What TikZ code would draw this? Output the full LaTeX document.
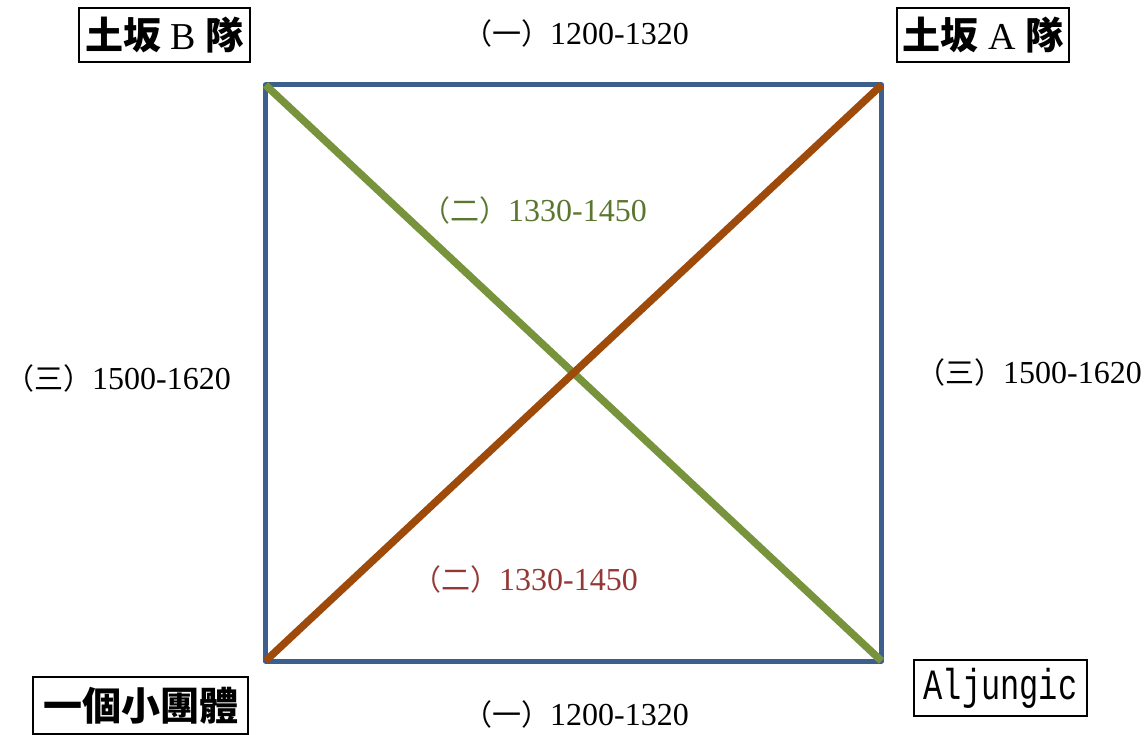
\documentclass[tikz,border=0pt]{standalone}
\usepackage{fontspec}
\setmainfont{Liberation Serif}
\newfontfamily\cjkfont{Noto Sans CJK TC}
\newfontfamily\monofont{Liberation Mono}
\usetikzlibrary{positioning}

\definecolor{sqblue}{HTML}{3D5F8E}
\definecolor{diaggreen}{HTML}{77933C}
\definecolor{diagorange}{HTML}{9E4A0B}
\definecolor{txtgreen}{HTML}{5B7630}
\definecolor{txtred}{HTML}{953735}

% (number) and time span
\newcommand{\period}[2]{{\cjkfont\fontsize{29}{32}\selectfont （#1）}#2}

\begin{document}
\begin{tikzpicture}[x=1pt,y=-1pt,
    timelabel/.style={font=\fontsize{32}{36}\selectfont, inner sep=0pt},
    teambox/.style={draw, line width=1.8pt, inner sep=0pt, minimum height=54pt}]
    \useasboundingbox (0,0) rectangle (1147,735);
    % Hjoerner af kvadratet
    \coordinate (tl) at (265.5,85);
    \coordinate (tr) at (881.5,85);
    \coordinate (br) at (881.5,661);
    \coordinate (bl) at (265.5,661);
    % Kvadratet
    \draw[sqblue,line width=5pt,line join=round] (tl) -- (tr) -- (br) -- (bl) -- cycle;
    % Diagonalerne
    \draw[diaggreen,line width=7.5pt] (tl) -- (br);
    \draw[diagorange,line width=7.5pt] (bl) -- (tr);
    % Holdene i hjoernerne
    \node[teambox,minimum width=171pt,font=\fontsize{38}{42}\selectfont] (teamB) at (164.5,35)
      {{\cjkfont\bfseries 土坂} B {\cjkfont\bfseries 隊}};
    \node[teambox,minimum width=172pt,font=\fontsize{38}{42}\selectfont] (teamA) at (983,35)
      {{\cjkfont\bfseries 土坂} A {\cjkfont\bfseries 隊}};
    \node[teambox,minimum width=215pt,minimum height=57pt,font=\cjkfont\bfseries\fontsize{39}{43}\selectfont] (smallgroup) at (140.5,705.5)
      {一個小團體};
    \node[teambox,minimum width=173pt,minimum height=56pt,font=\monofont\fontsize{32}{36}\selectfont] (aljungic) at (1000.5,688)
      {\scalebox{1}[1.35]{Aljungic}};
    % Tidsrummene
    \node[timelabel] (roundtop) at (576,33) {\period{一}{1200-1320}};
    \node[timelabel] (roundbottom) at (576,714) {\period{一}{1200-1320}};
    \node[timelabel,txtgreen] (roundgreen) at (534,210) {\period{二}{1330-1450}};
    \node[timelabel,txtred] (roundred) at (525,579) {\period{二}{1330-1450}};
    \node[timelabel] (roundleft) at (118,378) {\period{三}{1500-1620}};
    \node[timelabel] (roundright) at (1029,372) {\period{三}{1500-1620}};
\end{tikzpicture}
\end{document}
